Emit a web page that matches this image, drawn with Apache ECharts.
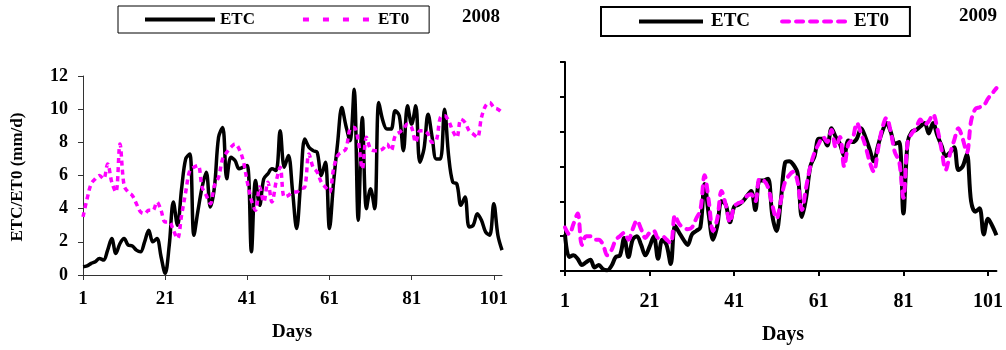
<!DOCTYPE html>
<html>
<head>
<meta charset="utf-8">
<script src="https://cdn.jsdelivr.net/npm/echarts@6/dist/echarts.min.js"></script>
<style>
  html, body { margin: 0; padding: 0; background: #fff; }
  #chart { width: 1006px; height: 350px; }
</style>
</head>
<body>
<div id="chart"></div>
<script>
// Day numbers along both x axes (1..103)
const days = [];
for (let d = 1; d <= 103; d++) days.push(String(d));

// Daily crop evapotranspiration (ETC) and reference evapotranspiration (ET0), mm/d
const etc2008 = [
  0.5, 0.55, 0.7, 0.8, 1.0, 0.9, 1.5, 2.2, 1.3, 1.9,
  2.2, 1.8, 1.75, 1.5, 1.4, 2.0, 2.7, 2.0, 2.2, 1.1,
  0.1, 1.8, 4.4, 3.0, 5.2, 7.0, 7.3, 2.4, 3.9, 5.3,
  6.2, 4.1, 5.3, 8.3, 8.9, 5.8, 7.1, 6.9, 6.4, 6.5,
  6.6, 1.4, 5.7, 4.2, 5.8, 6.1, 6.4, 6.3, 8.7, 6.5,
  7.2, 5.1, 2.8, 5.6, 8.2, 7.7, 7.5, 7.4, 6.0, 6.8,
  2.8, 5.6, 8.0, 10.1, 9.0, 8.1, 11.2, 3.3, 9.5, 4.0,
  5.2, 4.0, 10.4, 9.3, 8.8, 8.8, 9.9, 9.6, 7.5, 10.2,
  9.1, 10.2, 6.8, 7.6, 9.7, 8.3, 7.0, 7.0, 10.0, 7.2,
  5.6, 5.5, 4.2, 4.7, 2.9, 3.0, 3.7, 3.3, 2.6, 2.4,
  4.3, 2.4, 1.5
];
const et02008 = [
  3.5, 4.6, 5.5, 5.8, 6.0, 5.8, 6.7, 5.6, 5.0, 7.9,
  5.4, 5.0, 4.8, 4.3, 3.8, 3.7, 3.9, 3.9, 4.4, 3.9,
  3.2, 3.2, 2.7, 2.2, 3.6, 5.0, 6.3, 6.5, 6.6, 5.3,
  4.8, 4.3, 5.4, 5.9, 7.0, 7.4, 7.7, 7.9, 7.6, 6.9,
  5.6, 4.5, 3.9, 5.3, 4.4, 5.6, 4.4, 5.6, 6.5, 4.7,
  4.8, 5.0, 5.0, 5.2, 5.3, 7.3, 6.5, 6.2, 5.6, 5.3,
  5.0, 6.4, 7.2, 7.4, 7.6, 8.8, 8.9, 8.1, 6.4, 8.3,
  7.6, 7.5, 7.5, 7.6, 7.9, 7.5, 8.4, 8.6, 8.8, 9.1,
  8.9, 8.0, 8.7, 8.7, 8.5, 8.0, 8.1, 9.5, 9.6, 9.3,
  8.7, 8.3, 9.4, 9.2, 8.7, 8.5, 8.3, 9.5, 10.2, 10.4,
  10.1, 10.0, 9.8
];
const etc2009 = [
  2.1, 0.8, 0.9, 0.7, 0.35, 0.5, 0.65, 0.2, 0.35, 0.1,
  0.05, 0.3, 0.8, 0.9, 1.9, 0.8, 1.8, 2.0, 1.5, 0.9,
  1.4, 2.0, 0.7, 1.8, 1.5, 0.4, 2.6, 2.2, 1.8, 1.5,
  2.1, 2.3, 2.5, 5.0, 3.2, 1.8, 2.6, 4.0, 3.8, 2.8,
  3.7, 3.8, 4.0, 4.3, 4.6, 3.5, 5.2, 5.2, 5.3, 3.2,
  2.3, 4.0, 6.2, 6.3, 6.1, 5.6, 3.1, 4.2, 6.0, 6.6,
  7.6, 7.6, 7.2, 8.2, 7.7, 7.3, 6.6, 7.5, 7.4, 7.6,
  8.2, 7.7, 7.0, 6.3, 7.2, 8.0, 8.5, 8.0, 7.3, 7.4,
  3.3, 7.4, 8.0, 8.1, 8.3, 8.5, 7.9, 8.5, 7.8, 7.2,
  6.6, 6.8, 7.1, 5.8, 6.0, 6.7, 4.0, 3.4, 3.6, 2.1,
  3.0, 2.6, 2.05
];
const et02009 = [
  2.5, 2.1, 2.7, 3.3, 1.5, 2.0, 2.0, 1.8, 1.8, 1.5,
  0.9, 1.2, 1.8, 2.0, 2.2, 1.8, 2.4, 2.9, 2.4, 1.9,
  2.2, 2.3, 1.9, 2.0, 1.8, 1.6, 3.2, 2.7, 2.5, 2.4,
  2.5, 3.0, 3.5, 5.5, 4.0, 2.3, 3.0, 4.6, 3.8, 2.8,
  3.7, 3.9, 4.0, 4.3, 4.4, 4.0, 5.3, 5.2, 4.8, 3.8,
  3.0, 4.0, 5.1, 5.5, 5.7, 5.1, 3.5, 4.8, 6.0, 6.8,
  7.3, 7.7, 7.4, 8.1, 7.1, 7.7, 6.0, 7.3, 7.6, 8.5,
  7.9, 7.2, 6.3, 5.7, 7.0, 8.2, 8.8, 8.0, 6.8, 6.3,
  4.2, 7.4, 7.9, 8.2, 8.7, 8.4, 8.6, 9.0, 8.2, 7.0,
  5.8, 6.7, 7.5, 8.2, 7.6, 6.8, 8.6, 9.3, 9.4, 9.5,
  9.9, 10.2, 10.5
];

const yTicks = { min: 0, max: 12, interval: 2 };
const serif = '"Liberation Serif", "Times New Roman", serif';
const MAGENTA = '#ff00ff';
// legend keys show only the line, no marker
const noMarker = { opacity: 0, borderWidth: 0 };

function xAxisFor(gridIndex, lineWidth, labelSize, labelMargin, color) {
  return {
    type: 'category', gridIndex: gridIndex, data: days, boundaryGap: false,
    axisLine: { show: true, lineStyle: { color: color, width: lineWidth } },
    axisTick: { show: true, interval: 19, length: 5, inside: false,
                lineStyle: { color: color, width: lineWidth } },
    axisLabel: { interval: 19, margin: labelMargin, color: '#000',
                 fontFamily: serif, fontWeight: 'bold', fontSize: labelSize },
    splitLine: { show: false }
  };
}
function yAxisFor(gridIndex, lineWidth, showLabels, color) {
  return {
    type: 'value', gridIndex: gridIndex,
    min: yTicks.min, max: yTicks.max, interval: yTicks.interval,
    axisLine: { show: true, lineStyle: { color: color, width: lineWidth } },
    axisTick: { show: true, length: 5, inside: false,
                lineStyle: { color: color, width: lineWidth } },
    axisLabel: { show: showLabels, margin: 15, color: '#000',
                 fontFamily: serif, fontWeight: 'bold', fontSize: 18 },
    splitLine: { show: false }
  };
}

const chart = echarts.init(document.getElementById('chart'), null, { renderer: 'canvas' });
chart.setOption({
  animation: false,
  backgroundColor: '#fff',
  grid: [
    { left: 83, top: 76, width: 419, height: 199 },
    { left: 565, top: 62, width: 432, height: 209 }
  ],
  xAxis: [
    xAxisFor(0, 1, 19, 15, '#333'),
    xAxisFor(1, 2, 20, 21, '#000')
  ],
  yAxis: [
    yAxisFor(0, 1, true, '#333'),
    yAxisFor(1, 2, false, '#000')
  ],
  legend: [
    {
      left: 118, top: 6, orient: 'horizontal',
      padding: [5, 20, 5, 25], itemGap: 46, itemWidth: 70, itemHeight: 14,
      borderColor: '#000', borderWidth: 1,
      textStyle: { color: '#000', fontFamily: serif, fontWeight: 'bold', fontSize: 17 },
      data: [
        { name: 'ETC', itemStyle: noMarker, lineStyle: { color: '#000', width: 4 } },
        { name: 'ET0', itemStyle: noMarker, lineStyle: { color: MAGENTA, width: 4, type: [6, 14] } }
      ]
    },
    {
      left: 601, top: 7, orient: 'horizontal',
      padding: [5, 21, 5, 36], itemGap: 30, itemWidth: 64, itemHeight: 14,
      borderColor: '#000', borderWidth: 2,
      textStyle: { color: '#000', fontFamily: serif, fontWeight: 'bold', fontSize: 19,
                   padding: [0, 0, 0, 3] },
      data: [
        { name: 'ETC', itemStyle: noMarker, lineStyle: { color: '#000', width: 4 } },
        { name: 'ET0', itemStyle: noMarker,
          lineStyle: { color: MAGENTA, width: 4, type: [7, 7], cap: 'round' } }
      ]
    }
  ],
  series: [
    {
      name: 'ETC', type: 'line', xAxisIndex: 0, yAxisIndex: 0, data: etc2008,
      smooth: 0.35, symbol: 'none', showSymbol: false,
      lineStyle: { color: '#000', width: 3.5 }, itemStyle: { color: '#000' }
    },
    {
      name: 'ET0', type: 'line', xAxisIndex: 0, yAxisIndex: 0, data: et02008,
      smooth: 0.35, symbol: 'none', showSymbol: false,
      lineStyle: { color: MAGENTA, width: 3.5, type: [5, 4] }, itemStyle: { color: MAGENTA }
    },
    {
      name: 'ETC', type: 'line', xAxisIndex: 1, yAxisIndex: 1, data: etc2009,
      smooth: 0.35, symbol: 'none', showSymbol: false,
      lineStyle: { color: '#000', width: 4 }, itemStyle: { color: '#000' }
    },
    {
      name: 'ET0', type: 'line', xAxisIndex: 1, yAxisIndex: 1, data: et02009,
      smooth: 0.35, symbol: 'none', showSymbol: false,
      lineStyle: { color: MAGENTA, width: 4, type: [7, 7], cap: 'round' },
      itemStyle: { color: MAGENTA }
    }
  ],
  graphic: [
    { type: 'text', x: 18, y: 177, rotation: Math.PI / 2,
      style: { text: 'ETC/ET0 (mm/d)', fill: '#000', font: 'bold 17px ' + serif,
               textAlign: 'center', textVerticalAlign: 'middle' } },
    { type: 'text', x: 292, y: 332,
      style: { text: 'Days', fill: '#000', font: 'bold 19px ' + serif,
               textAlign: 'center', textVerticalAlign: 'middle' } },
    { type: 'text', x: 783, y: 335,
      style: { text: 'Days', fill: '#000', font: 'bold 20px ' + serif,
               textAlign: 'center', textVerticalAlign: 'middle' } },
    { type: 'text', x: 481, y: 17,
      style: { text: '2008', fill: '#000', font: 'bold 19px ' + serif,
               textAlign: 'center', textVerticalAlign: 'middle' } },
    { type: 'text', x: 978, y: 16,
      style: { text: '2009', fill: '#000', font: 'bold 19px ' + serif,
               textAlign: 'center', textVerticalAlign: 'middle' } }
  ]
});
</script>
</body>
</html>
